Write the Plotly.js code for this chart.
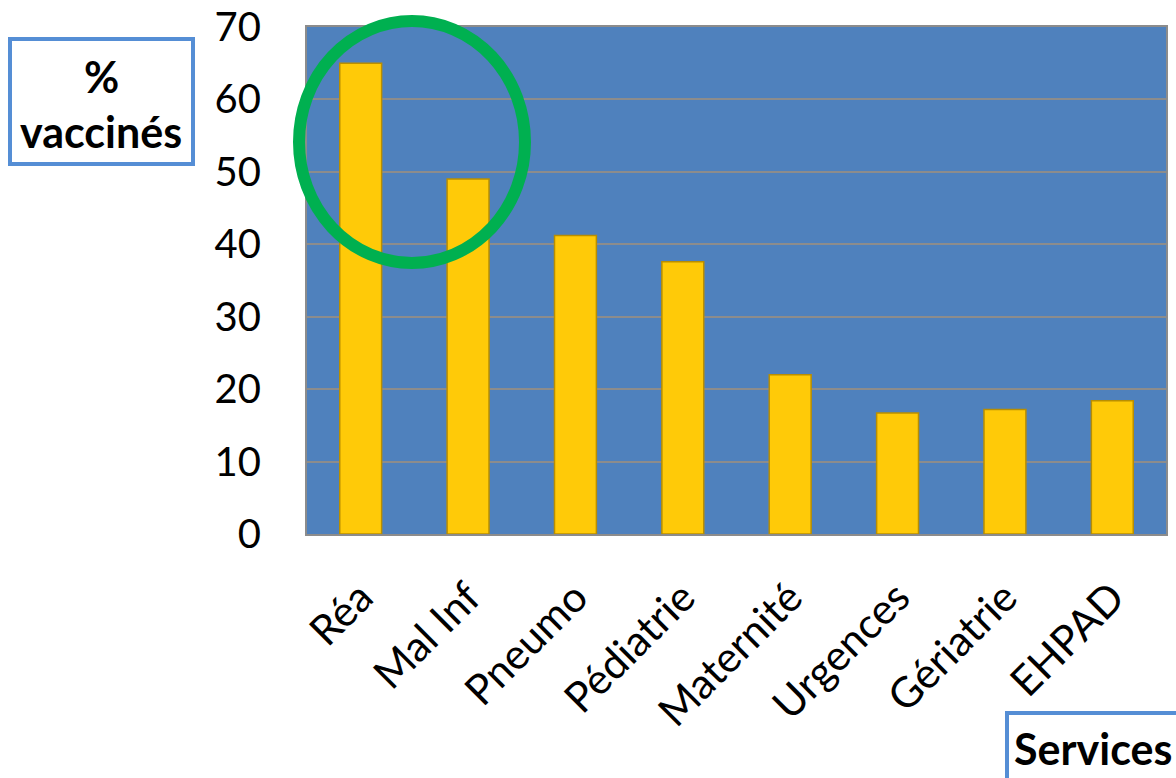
<!DOCTYPE html>
<html>
<head>
<meta charset="utf-8">
<script src="https://cdn.plot.ly/plotly-3.0.1.min.js"></script>
<style>html,body{margin:0;padding:0;background:#fff;}#chart{width:1176px;height:778px;}</style>
</head>
<body>
<div id="chart"></div>
<script>
const categories = ["Réa", "Mal Inf", "Pneumo", "Pédiatrie", "Maternité", "Urgences", "Gériatrie", "EHPAD"];
const values = [65.0, 49.0, 41.2, 37.6, 22.0, 16.7, 17.2, 18.4];
const yTicks = [0, 10, 20, 30, 40, 50, 60, 70];

const FONT = "Lato, 'Open Sans', sans-serif";
const W = 1176, H = 778, L = 307, R = 10, T = 27, B = 244;
const pw = W - L - R, ph = H - T - B;
const px = x => (x - L) / pw;
const py = y => (H - B - y) / ph;

const trace = {
  type: "bar",
  x: categories,
  y: values,
  width: 0.39,
  marker: { color: "#FFCA08", line: { color: "#B98E00", width: 1.5 } },
  hoverinfo: "x+y"
};

const layout = {
  width: W, height: H,
  margin: { l: L, r: R, t: T, b: B, pad: 0 },
  paper_bgcolor: "#ffffff",
  plot_bgcolor: "#4F81BD",
  showlegend: false,
  font: { family: FONT, color: "#000" },
  xaxis: {
    type: "category",
    tickangle: -45,
    tickfont: { family: FONT, size: 42, color: "#000" },
    ticklabelstandoff: 20,
    showline: true, linecolor: "#8C8C8C", linewidth: 2, mirror: true,
    showgrid: false, ticks: ""
  },
  yaxis: {
    range: [0, 70],
    tickvals: yTicks,
    ticktext: yTicks.map(String),
    tickfont: { family: FONT, size: 40, color: "#000" },
    ticklabelstandoff: 36,
    showline: true, linecolor: "#8C8C8C", linewidth: 2, mirror: true,
    showgrid: true, gridcolor: "#8C8C8C", gridwidth: 1.5,
    zeroline: false, ticks: ""
  },
  shapes: [
    { type: "circle", xref: "paper", yref: "paper",
      x0: px(299), x1: px(525), y0: py(263), y1: py(21),
      line: { color: "#00B050", width: 12 } },
    { type: "rect", xref: "paper", yref: "paper",
      x0: px(10), x1: px(193), y0: py(164), y1: py(39),
      fillcolor: "rgba(0,0,0,0)", line: { color: "#558ED5", width: 4 } },
    { type: "rect", xref: "paper", yref: "paper",
      x0: px(1007), x1: px(1190), y0: py(790), y1: py(713),
      fillcolor: "rgba(0,0,0,0)", line: { color: "#558ED5", width: 4 } }
  ],
  annotations: [
    { xref: "paper", yref: "paper", x: px(101), y: py(76), text: "<b>%</b>",
      showarrow: false, xanchor: "center", yanchor: "middle",
      font: { family: FONT, size: 43, color: "#000", weight: 900 } },
    { xref: "paper", yref: "paper", x: px(101), y: py(132), text: "<b>vaccinés</b>",
      showarrow: false, xanchor: "center", yanchor: "middle",
      font: { family: FONT, size: 43, color: "#000", weight: 900 } },
    { xref: "paper", yref: "paper", x: px(1012), y: py(748), text: "<b>Services</b>",
      showarrow: false, xanchor: "left", yanchor: "middle",
      font: { family: FONT, size: 43, color: "#000", weight: 900 } }
  ]
};

Plotly.newPlot("chart", [trace], layout, { displayModeBar: false, responsive: false });
</script>
</body>
</html>
